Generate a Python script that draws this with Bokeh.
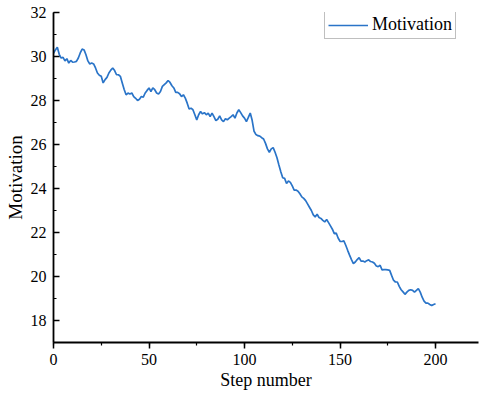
from bokeh.plotting import figure
from bokeh.models import Range1d, SingleIntervalTicker, Legend, LegendItem, ColumnDataSource
from bokeh.embed import file_html
from bokeh.resources import INLINE

steps = list(range(0, 201))
motivation = [
    30.15, 30.30, 30.42, 30.10, 29.93, 29.96, 29.80, 29.90, 29.70, 29.82,
    29.74, 29.75, 29.78, 29.93, 30.16, 30.34, 30.30, 30.08, 29.80, 29.66,
    29.70, 29.66, 29.48, 29.25, 29.15, 29.10, 28.80, 28.95, 29.05, 29.25,
    29.38, 29.48, 29.36, 29.17, 29.17, 29.10, 28.80, 28.50, 28.26, 28.34,
    28.30, 28.34, 28.18, 28.10, 28.00, 28.06, 28.18, 28.15, 28.34, 28.46,
    28.57, 28.41, 28.57, 28.49, 28.34, 28.29, 28.41, 28.64, 28.72, 28.80,
    28.91, 28.82, 28.67, 28.57, 28.37, 28.37, 28.31, 28.18, 28.26, 28.11,
    27.88, 27.61, 27.65, 27.58, 27.35, 27.12, 27.35, 27.50, 27.39, 27.45,
    27.35, 27.43, 27.27, 27.43, 27.27, 27.09, 27.15, 27.30, 27.12, 27.04,
    27.17, 27.12, 27.20, 27.27, 27.35, 27.20, 27.43, 27.58, 27.45, 27.30,
    27.20, 27.04, 27.23, 27.43, 27.10, 26.60, 26.45, 26.40, 26.38, 26.31,
    26.25, 26.05, 25.80, 25.65, 25.80, 25.86, 25.65, 25.40, 25.07, 24.76,
    24.49, 24.46, 24.23, 24.34, 24.28, 24.12, 23.93, 23.93, 23.88, 23.76,
    23.62, 23.55, 23.45, 23.30, 23.15, 23.00, 22.80, 22.71, 22.83, 22.68,
    22.64, 22.55, 22.48, 22.59, 22.45, 22.30, 22.15, 21.95, 21.98, 21.75,
    21.60, 21.59, 21.62, 21.42, 21.19, 20.97, 20.77, 20.59, 20.66, 20.77,
    20.86, 20.70, 20.70, 20.66, 20.72, 20.76, 20.68, 20.66, 20.60, 20.48,
    20.45, 20.51, 20.30, 20.31, 20.31, 20.30, 20.28, 20.05, 19.83, 19.75,
    19.75, 19.55, 19.40, 19.30, 19.19, 19.29, 19.37, 19.40, 19.37, 19.29,
    19.37, 19.45, 19.29, 19.06, 18.88, 18.79, 18.79, 18.73, 18.68, 18.73,
    18.76,
]
series_name = "Motivation"
x_label = "Step number"
y_label = "Motivation"

FONT = "Liberation Serif"

p = figure(width=479, height=395, output_backend="svg", toolbar_location=None,
           x_range=Range1d(0, 222.5), y_range=Range1d(17, 32))
p.min_border_left = 53
p.min_border_right = 1
p.min_border_top = 12
p.min_border_bottom = 53
p.outline_line_color = None
p.xgrid.visible = False
p.ygrid.visible = False
p.background_fill_color = "white"
p.border_fill_color = "white"

src = ColumnDataSource(dict(x=steps, y=motivation))
r = p.line("x", "y", source=src, line_color="#2a74c8", line_width=1.7)

p.xaxis.ticker = SingleIntervalTicker(interval=50, num_minor_ticks=2)
p.yaxis.ticker = SingleIntervalTicker(interval=2, num_minor_ticks=2)

for ax in (p.xaxis[0], p.yaxis[0]):
    ax.axis_line_width = 1.8
    ax.axis_line_color = "black"
    ax.major_tick_line_width = 1.5
    ax.minor_tick_line_width = 1.2
    ax.major_tick_line_color = "black"
    ax.minor_tick_line_color = "black"
    ax.major_label_text_font = FONT
    ax.major_label_text_font_size = "16px"
    ax.major_label_text_color = "black"
    ax.axis_label_text_font = FONT
    ax.axis_label_text_font_size = "18px"
    ax.axis_label_text_font_style = "normal"
    ax.axis_label_text_color = "black"

# x ticks point outward (down)
p.xaxis.major_tick_in = 0
p.xaxis.major_tick_out = 6
p.xaxis.minor_tick_in = 0
p.xaxis.minor_tick_out = 3
# y ticks point inward (right)
p.yaxis.major_tick_in = 6
p.yaxis.major_tick_out = 0
p.yaxis.minor_tick_in = 3
p.yaxis.minor_tick_out = 0

p.xaxis.axis_label = x_label
p.yaxis.axis_label = y_label
p.xaxis.major_label_standoff = 5
p.yaxis.major_label_standoff = 7
p.xaxis.axis_label_standoff = 2
p.yaxis.axis_label_standoff = 2
p.yaxis.axis_label_text_font_size = "19px"

legend = Legend(items=[LegendItem(label=series_name, renderers=[r])],
                location=(271, 303))
legend.label_text_font = FONT
legend.label_text_font_size = "18px"
legend.label_text_color = "black"
legend.glyph_width = 40
legend.glyph_height = 20
legend.label_standoff = 4
legend.padding = 3
legend.margin = 0
legend.spacing = 0
legend.border_line_color = "#808080"
legend.border_line_width = 1
legend.background_fill_alpha = 1
p.add_layout(legend)

open("out.html", "w").write(file_html(p, INLINE))
